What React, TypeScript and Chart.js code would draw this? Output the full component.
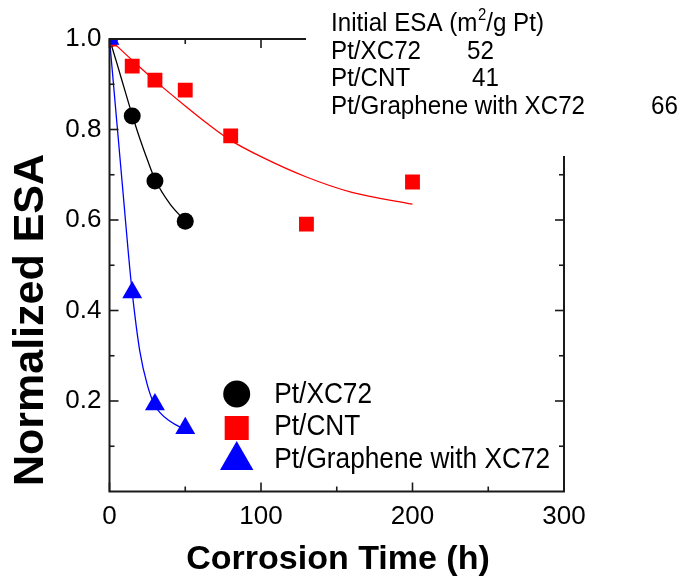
import React, { useEffect, useRef } from 'react';
import { Chart, registerables } from 'chart.js';

Chart.register(...registerables);

const FONT = '"Liberation Sans", Arial, Helvetica, sans-serif';

// ---- measured data ----
const seriesNames = ['Pt/XC72', 'Pt/CNT', 'Pt/Graphene with XC72'];
const seriesColors = ['#000000', '#ff0000', '#0000ff'];
const seriesStyles = ['circle', 'rect', 'triangle'];
const initialESA = [52, 41, 66];

const timeXC72 = [0, 15, 30, 50];
const esaXC72 = [1.0, 0.83, 0.686, 0.597];
const timeCNT = [0, 15, 30, 50, 80, 130, 200];
const esaCNT = [1.0, 0.94, 0.909, 0.887, 0.786, 0.591, 0.684];
const timeGr = [0, 15, 30, 50];
const esaGr = [1.0, 0.44, 0.192, 0.14];

// fitted curves
const fitTimeXC72 = [0, 5, 10, 15, 20, 25, 30, 40, 50];
const fitXC72 = [1.0, 0.945, 0.888, 0.832, 0.78, 0.733, 0.69, 0.635, 0.598];
const fitTimeCNT = [0, 15, 30, 50, 65, 80, 100, 130, 160, 200];
const fitCNT = [1.0, 0.953, 0.908, 0.852, 0.812, 0.776, 0.74, 0.695, 0.661, 0.635];
const fitTimeGr = [0, 2.5, 5, 7.5, 10, 12.5, 15, 20, 25, 30, 40, 50];
const fitGr = [1.0, 0.905, 0.81, 0.715, 0.62, 0.525, 0.44, 0.31, 0.235, 0.19, 0.155, 0.137];

const xMajorTicks = [0, 100, 200, 300];
const xMinorTicks = [50, 150, 250];
const yMajorTicks = [0.2, 0.4, 0.6, 0.8, 1.0];
const yMinorTicks = [0.1, 0.3, 0.5, 0.7, 0.9];

const xTitle = 'Corrosion Time (h)';
const yTitle = 'Normalized ESA';
const infoTitle = ['Initial ESA (m', '2', '/g Pt)'];

const zip = (xs: number[], ys: number[]) => xs.map((x, i) => ({ x, y: ys[i] }));

function drawMarker(ctx: CanvasRenderingContext2D, style: string, x: number, y: number, r: number) {
  ctx.beginPath();
  if (style === 'circle') {
    ctx.arc(x, y, r, 0, Math.PI * 2);
  } else if (style === 'rect') {
    const s = r * Math.SQRT1_2;
    ctx.rect(x - s, y - s, 2 * s, 2 * s);
  } else {
    for (let i = 0; i < 3; i++) {
      const a = (i * 2 * Math.PI) / 3;
      const px = x + Math.sin(a) * r;
      const py = y - Math.cos(a) * r;
      if (i === 0) ctx.moveTo(px, py);
      else ctx.lineTo(px, py);
    }
    ctx.closePath();
  }
  ctx.fill();
}

function scaledText(ctx: CanvasRenderingContext2D, text: string, x: number, y: number, sx: number) {
  ctx.save();
  ctx.translate(x, y);
  ctx.scale(sx, 1);
  ctx.fillText(text, 0, 0);
  const w = ctx.measureText(text).width * sx;
  ctx.restore();
  return w;
}

const framePlugin = {
  id: 'frame',
  afterDatasetsDraw(chart: any) {
    const { ctx, chartArea: a, scales } = chart;
    const xs = scales.x;
    const ys = scales.y;
    ctx.save();
    ctx.strokeStyle = '#1a1a1a';
    ctx.lineWidth = 2;
    ctx.beginPath();
    ctx.rect(a.left, a.top, a.right - a.left, a.bottom - a.top);
    ctx.stroke();
    ctx.lineWidth = 1.6;
    const seg = (x1: number, y1: number, x2: number, y2: number) => {
      ctx.beginPath();
      ctx.moveTo(x1, y1);
      ctx.lineTo(x2, y2);
      ctx.stroke();
    };
    const tx = (v: number, len: number) => {
      const p = xs.getPixelForValue(v);
      seg(p, a.bottom, p, a.bottom - len);
      seg(p, a.top, p, a.top + len);
    };
    const ty = (v: number, len: number) => {
      const p = ys.getPixelForValue(v);
      seg(a.left, p, a.left + len, p);
      seg(a.right, p, a.right - len, p);
    };
    xMajorTicks.forEach((v) => tx(v, 9));
    xMinorTicks.forEach((v) => tx(v, 5));
    yMajorTicks.forEach((v) => ty(v, 9));
    yMinorTicks.forEach((v) => ty(v, 5));
    ctx.restore();
  },
  afterDraw(chart: any) {
    const { ctx } = chart;
    ctx.save();
    // info box (covers frame)
    ctx.fillStyle = '#ffffff';
    ctx.fillRect(306, 0, 684 - 306, 156);
    ctx.fillStyle = '#000000';
    ctx.textBaseline = 'alphabetic';
    ctx.textAlign = 'left';
    const sx = 0.93;
    ctx.font = `26px ${FONT}`;
    let x = 331;
    x += scaledText(ctx, infoTitle[0], x, 31, sx);
    ctx.font = `16px ${FONT}`;
    x += scaledText(ctx, infoTitle[1], x + 0.5, 20, sx) + 0.5;
    ctx.font = `26px ${FONT}`;
    scaledText(ctx, infoTitle[2], x, 31, sx);
    const baselines = [58.5, 86, 113.5];
    const numX = [467, 472, 651];
    seriesNames.forEach((n, i) => {
      scaledText(ctx, n, 331, baselines[i], sx);
      scaledText(ctx, String(initialESA[i]), numX[i], baselines[i], sx);
    });

    // legend
    const legY = [394, 428, 460.3];
    const legR = [13.5, 17, 19.3];
    const legText = [403.3, 435, 468.3];
    ctx.font = `29px ${FONT}`;
    seriesNames.forEach((n, i) => {
      ctx.fillStyle = seriesColors[i];
      drawMarker(ctx, seriesStyles[i], 236.7, legY[i], legR[i]);
      ctx.fillStyle = '#000000';
      scaledText(ctx, n, 274.3, legText[i], 0.905);
    });

    // axis titles
    ctx.fillStyle = '#000000';
    ctx.font = `bold 34px ${FONT}`;
    ctx.textAlign = 'center';
    ctx.fillText(xTitle, 338, 569);
    ctx.save();
    ctx.translate(43, 320);
    ctx.rotate(-Math.PI / 2);
    ctx.font = `bold 43px ${FONT}`;
    ctx.fillText(yTitle, 0, 0);
    ctx.restore();
    ctx.restore();
  },
};

export default function App() {
  const ref = useRef<HTMLCanvasElement | null>(null);
  useEffect(() => {
    document.body.style.margin = '0';
    const canvas = ref.current;
    if (!canvas) return;
    const markerSets = [
      { data: zip(timeXC72, esaXC72), r: 8.5, order: 2 },
      { data: zip(timeCNT, esaCNT), r: 10.5, order: 1 },
      { data: zip(timeGr, esaGr), r: 11.5, order: 0 },
    ];
    const fits = [zip(fitTimeXC72, fitXC72), zip(fitTimeCNT, fitCNT), zip(fitTimeGr, fitGr)];
    const datasets: any[] = [];
    seriesNames.forEach((name, i) => {
      datasets.push({
        type: 'line',
        label: name + ' fit',
        data: fits[i],
        borderColor: seriesColors[i],
        borderWidth: 1.3,
        pointRadius: 0,
        fill: false,
        cubicInterpolationMode: 'monotone',
        order: 5 + i,
        clip: 0,
      });
      datasets.push({
        type: 'scatter',
        label: name,
        data: markerSets[i].data,
        showLine: false,
        pointStyle: seriesStyles[i],
        pointRadius: markerSets[i].r,
        pointHoverRadius: markerSets[i].r,
        pointBackgroundColor: seriesColors[i],
        pointBorderColor: seriesColors[i],
        pointBorderWidth: 0,
        order: markerSets[i].order,
        clip: 0,
      });
    });
    const chart = new Chart(canvas, {
      type: 'scatter',
      data: { datasets },
      plugins: [framePlugin],
      options: {
        responsive: false,
        animation: false,
        events: [],
        layout: { padding: { top: 39, right: 120, left: 0, bottom: 0 } },
        plugins: { legend: { display: false }, tooltip: { enabled: false }, title: { display: false } },
        scales: {
          x: {
            type: 'linear',
            min: 0,
            max: 300,
            grid: { display: false, drawTicks: false },
            border: { display: false },
            afterFit: (s: any) => { s.height = 87.5; },
            ticks: {
              stepSize: 100,
              padding: 10,
              color: '#000000',
              font: { family: FONT, size: 26 },
              maxRotation: 0,
              callback: (v: any) => String(v),
            },
          },
          y: {
            type: 'linear',
            min: 0,
            max: 1,
            grid: { display: false, drawTicks: false },
            border: { display: false },
            afterFit: (s: any) => { s.width = 109.5; },
            ticks: {
              stepSize: 0.2,
              padding: 8,
              color: '#000000',
              font: { family: FONT, size: 26 },
              callback: (v: any) => (Math.abs(v) < 1e-9 ? '' : Number(v).toFixed(1)),
            },
          },
        },
      } as any,
    });
    return () => chart.destroy();
  }, []);
  return (
    <div style={{ width: 684, height: 579 }}>
      <canvas ref={ref} width={684} height={579} style={{ display: 'block', width: 684, height: 579 }} />
    </div>
  );
}
